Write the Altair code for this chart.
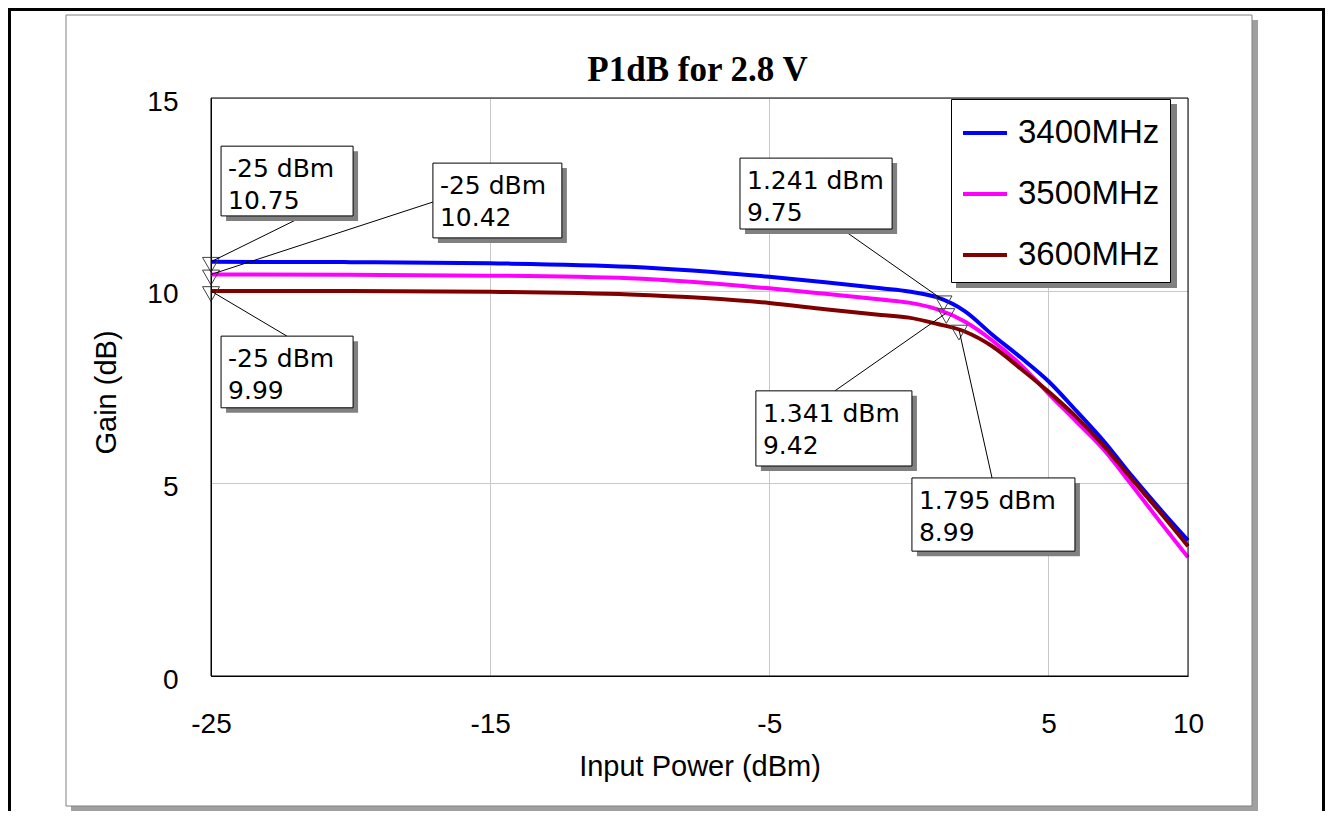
import altair as alt
import pandas as pd

# ---------------- data ----------------
input_power = [-25, -20, -15, -10, -5, -3, -1, 0, 1, 2, 3, 4, 5, 6, 7, 8, 9, 10]
gain_3400 = [10.75, 10.74, 10.71, 10.62, 10.36, 10.22, 10.06, 9.98, 9.83, 9.47, 8.85, 8.27, 7.65, 6.88, 6.08, 5.18, 4.33, 3.52]
gain_3500 = [10.42, 10.41, 10.39, 10.32, 10.06, 9.92, 9.77, 9.69, 9.52, 9.20, 8.70, 8.08, 7.33, 6.60, 5.86, 4.94, 4.00, 3.08]
gain_3600 = [9.99, 9.99, 9.97, 9.90, 9.68, 9.52, 9.37, 9.30, 9.14, 8.94, 8.55, 7.98, 7.38, 6.72, 5.96, 5.10, 4.25, 3.37]
series_names = ["3400MHz", "3500MHz", "3600MHz"]
series_colors = ["#0000ff", "#ff00ff", "#800000"]

marker_power = [-25, -25, -25, 1.241, 1.341, 1.795]
marker_gain = [10.75, 10.42, 9.99, 9.75, 9.42, 8.99]
marker_text = ["-25 dBm\n10.75", "-25 dBm\n10.42", "-25 dBm\n9.99",
               "1.241 dBm\n9.75", "1.341 dBm\n9.42", "1.795 dBm\n8.99"]

chart_title = "P1dB for 2.8 V"

# annotation boxes (data units): left, right, top, bottom, leader start x, leader start y
box_left = [-24.64, -17.05, -24.64, -6.05, -5.48, 0.11]
box_right = [-19.91, -12.43, -19.91, -0.60, 0.11, 5.95]
box_top = [13.75, 13.31, 8.82, 13.44, 7.40, 5.14]
box_bottom = [11.94, 11.37, 6.96, 11.60, 5.45, 3.24]
lead_x = [-21.67, -17.05, -22.28, -2.40, -2.65, 2.98]
lead_y = [11.94, 12.30, 8.82, 11.60, 7.40, 5.14]

x_ticks = [-25, -15, -5, 5, 10]
y_ticks = [0, 5, 10, 15]

# ---------------- tables ----------------
rows = []
for name, gains in zip(series_names, [gain_3400, gain_3500, gain_3600]):
    for p, g in zip(input_power, gains):
        rows.append({"power": p, "gain": g, "series": name})
curves = pd.DataFrame(rows)

ann = pd.DataFrame({
    "power": marker_power, "gain": marker_gain, "label": marker_text,
    "bl": box_left, "br": box_right, "bt": box_top, "bb": box_bottom,
    "lx": lead_x, "ly": lead_y,
})

W, H = 977, 578
PAD_L, PAD_T = 203, 90
TOTAL_W, TOTAL_H = 1317, 803

xs = alt.Scale(domain=[-25, 10], nice=False, zero=False)
ys = alt.Scale(domain=[0, 15], nice=False, zero=False)

x_axis = alt.Axis(values=x_ticks, title="Input Power (dBm)", labelFont="Liberation Sans",
                  labelExpr="toString(datum.value)",
                  labelFontSize=28, labelColor="black", labelBaseline="alphabetic",
                  labelPadding=56, ticks=False, tickSize=0, domain=True, domainColor="black",
                  grid=True, gridColor="#c8c8c8", labelFlush=False, labelOverlap=False,
                  titleFont="Liberation Sans", titleFontSize=29, titleFontWeight="normal",
                  titleColor="black", titleBaseline="alphabetic", titleY=99)
y_axis = alt.Axis(values=y_ticks, title="Gain (dB)", labelFont="Liberation Sans",
                  labelExpr="toString(datum.value)",
                  labelFontSize=28, labelColor="black", labelPadding=33, labelOffset=4,
                  ticks=False, tickSize=0, domain=True, domainColor="black",
                  grid=True, gridColor="#c8c8c8", labelFlush=False, labelOverlap=False,
                  titleFont="Liberation Sans", titleFontSize=29, titleFontWeight="normal",
                  titleColor="black", titleAngle=270, titleBaseline="alphabetic",
                  titleAlign="center", titleX=-96, titleY=294)

base = alt.Chart(curves)

# ---- decorative page frame (pixel space) ----
frame_df = pd.DataFrame({"k": [0], "title": [chart_title]})
fb = alt.Chart(frame_df)
outer_left = fb.mark_rule(color="black", strokeWidth=3).encode(
    x=alt.value(-201.5), y=alt.value(-90), y2=alt.value(TOTAL_H - PAD_T))
outer_top = fb.mark_rule(color="black", strokeWidth=3).encode(
    x=alt.value(-203), x2=alt.value(TOTAL_W - PAD_L), y=alt.value(-88.5))
outer_right = fb.mark_rule(color="black", strokeWidth=3).encode(
    x=alt.value(TOTAL_W - PAD_L - 1.5), y=alt.value(-90), y2=alt.value(TOTAL_H - PAD_T))
shadow_r = fb.mark_rect(fill="#a0a0a0").encode(
    x=alt.value(1041), x2=alt.value(1047), y=alt.value(-78), y2=alt.value(714))
shadow_b = fb.mark_rect(fill="#a0a0a0").encode(
    x=alt.value(-140), x2=alt.value(1047), y=alt.value(708), y2=alt.value(714))
inner_frame = fb.mark_rect(fill="transparent", stroke="#808080", strokeWidth=1).encode(
    x=alt.value(-145), x2=alt.value(1041), y=alt.value(-83), y2=alt.value(708))
title_mark = fb.mark_text(font="Liberation Serif", fontSize=35, fontWeight="bold",
                          color="black", align="center", baseline="alphabetic").encode(
    x=alt.value(W / 2 - 2), y=alt.value(-17), text="title:N")

# ---- curves ----
lines = base.mark_line(strokeWidth=4, interpolate="monotone").encode(
    x=alt.X("power:Q", scale=xs, axis=x_axis),
    y=alt.Y("gain:Q", scale=ys, axis=y_axis),
    color=alt.Color("series:N", scale=alt.Scale(domain=series_names, range=series_colors),
                    legend=alt.Legend(title=None, orient="none", legendX=740, legendY=1,
                                      symbolType="stroke", symbolSize=1936,
                                      symbolStrokeWidth=4, labelFontSize=33,
                                      labelFont="Liberation Sans", labelColor="black",
                                      rowPadding=20, padding=10, fillColor="white",
                                      strokeColor="black", labelOffset=9, labelLimit=400)),
    order="power:Q",
)

ab = alt.Chart(ann)
markers = ab.mark_point(shape="triangle-down", size=290, filled=False, stroke="#404040",
                        strokeWidth=1, yOffset=3, opacity=1).encode(
    x=alt.X("power:Q", scale=xs), y=alt.Y("gain:Q", scale=ys))
leaders = ab.mark_rule(color="black", strokeWidth=1).encode(
    x="lx:Q", y="ly:Q", x2="power:Q", y2="gain:Q")
box_shadow = ab.mark_rect(fill="#808080", xOffset=5, x2Offset=5, yOffset=5, y2Offset=5).encode(
    x="bl:Q", x2="br:Q", y="bt:Q", y2="bb:Q")
boxes = ab.mark_rect(fill="white", stroke="black", strokeWidth=1).encode(
    x="bl:Q", x2="br:Q", y="bt:Q", y2="bb:Q")
texts = ab.mark_text(align="left", baseline="alphabetic", dx=7, dy=31, lineBreak="\n",
                     lineHeight=32, font="DejaVu Sans", fontSize=25, color="black").encode(
    x="bl:Q", y="bt:Q", text="label:N")

legend_shadow = fb.mark_rect(fill="#808080").encode(
    x=alt.value(745), x2=alt.value(966), y=alt.value(6), y2=alt.value(190))
plot_border = fb.mark_rect(fill="transparent", stroke="black", strokeWidth=1).encode(
    x=alt.value(0), x2=alt.value(W), y=alt.value(0), y2=alt.value(H))

chart = alt.layer(
    outer_left, outer_top, outer_right, shadow_r, shadow_b, inner_frame, title_mark,
    lines, markers, leaders, box_shadow, boxes, texts, legend_shadow, plot_border,
).properties(
    width=W, height=H,
    autosize=alt.AutoSizeParams(type="none"),
    padding={"left": PAD_L, "top": PAD_T, "right": TOTAL_W - PAD_L - W,
             "bottom": TOTAL_H - PAD_T - H},
).configure_view(stroke=None).configure(background="white")

chart.save("out.html", embed_options={"renderer": "svg", "actions": False})
